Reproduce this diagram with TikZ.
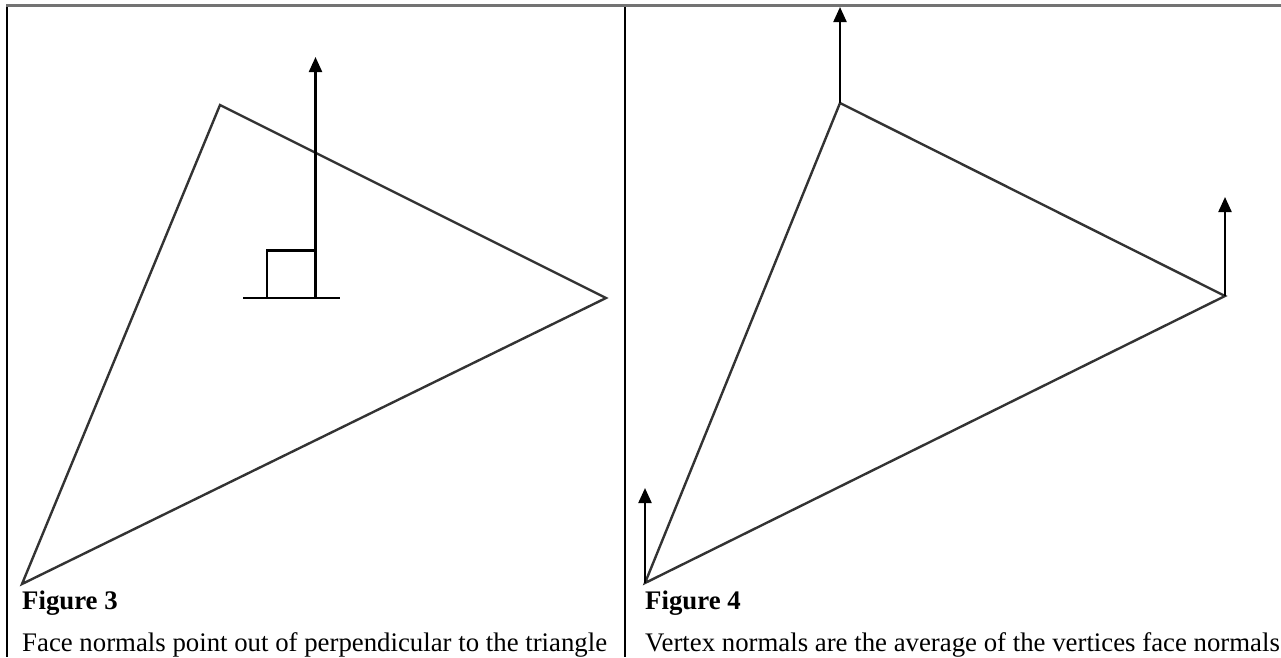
\documentclass[tikz,border=0pt]{standalone}
\usepackage{fontspec}
\setmainfont{Liberation Serif}
\usetikzlibrary{arrows.meta}
\begin{document}
\begin{tikzpicture}[x=1pt,y=-1pt,
  tri/.style={draw=black!80,line width=2.4pt,line join=miter},
  normal/.style={draw=black,line width=2.2pt,-{Triangle[length=15pt,width=13pt]}},
  rule/.style={draw=black,line width=2pt},
  topline/.style={draw=black!55,line width=2.4pt},
  captext/.style={anchor=base west,inner sep=0pt,font=\fontsize{26.8}{30}\selectfont}]
\useasboundingbox (0,0) rectangle (1281,657);
% table borders
\coordinate (tl) at (6,5.5);
\coordinate (tr) at (1281,5.5);
\coordinate (lb) at (7,657);
\coordinate (lt) at (7,5.5);
\coordinate (mt) at (624.5,5.5);
\coordinate (mb) at (624.5,657);
\draw[rule] (lt) -- (lb);
\draw[rule] (mt) -- (mb);
\draw[topline] (tl) -- (tr);
% Figure 3
\coordinate (a1) at (220,105);
\coordinate (b1) at (606,298);
\coordinate (c1) at (22,584);
\draw[tri] (a1) -- (b1) -- (c1) -- cycle;
\coordinate (nb) at (315.5,298);
\coordinate (nt) at (315.5,57);
\coordinate (bl) at (243,298);
\coordinate (br) at (340,298);
\coordinate (sq1) at (267,298);
\coordinate (sq2) at (267,250.5);
\coordinate (sq3) at (315.5,250.5);
\draw[rule,line width=2.2pt] (bl) -- (br);
\draw[rule,line width=2.2pt] (sq1) -- (sq2) -- (sq3);
\draw[normal] (nb) -- (nt);
\node[captext] (f3) at (22,609) {\textbf{Figure 3}};
\node[captext] (t3) at (22,651) {Face normals point out of perpendicular to the triangle};
% Figure 4
\coordinate (a2) at (840,103);
\coordinate (b2) at (1225,296);
\coordinate (c2) at (645,583);
\draw[tri] (a2) -- (b2) -- (c2) -- cycle;
\coordinate (a2t) at (840,7);
\coordinate (b2t) at (1225,197);
\coordinate (c2t) at (645,488);
\draw[normal] (a2) -- (a2t);
\draw[normal] (b2) -- (b2t);
\draw[normal] (c2) -- (c2t);
\node[captext] (f4) at (645,609) {\textbf{Figure 4}};
\node[captext] (t4) at (645,651) {Vertex normals are the average of the vertices face normals};
\end{tikzpicture}
\end{document}
